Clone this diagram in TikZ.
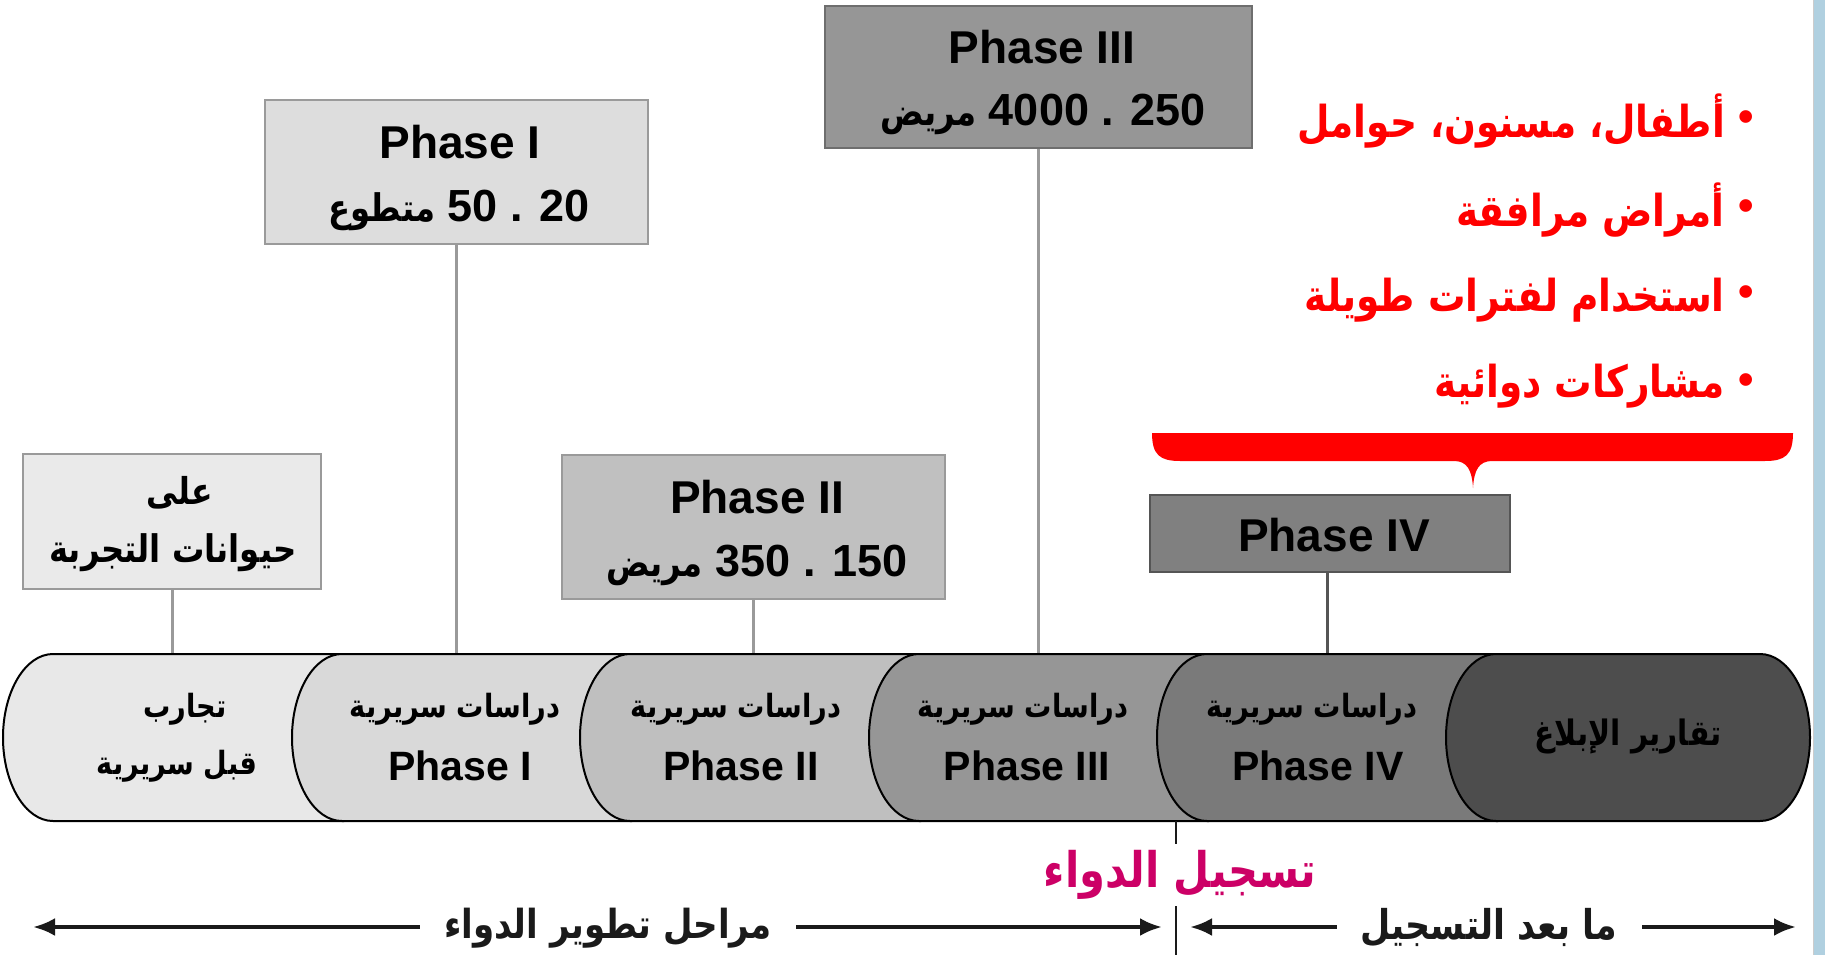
\documentclass[tikz,border=0pt]{standalone}
\usepackage{fontspec}
\setmainfont{Liberation Sans}
\newfontfamily\arfont[Script=Arabic,FakeStretch=0.85]{DejaVu Sans}
\TeXXeTstate=1
\usetikzlibrary{arrows.meta}
\newcommand{\FS}[1]{\fontsize{#1}{#1}\selectfont}
\newcommand{\AR}[1]{{\arfont\bfseries\beginR #1\endR}}
\definecolor{sA}{HTML}{E8E8E8}
\definecolor{sB}{HTML}{D9D9D9}
\definecolor{sC}{HTML}{BFBFBF}
\definecolor{sD}{HTML}{969696}
\definecolor{sE}{HTML}{7A7A7A}
\definecolor{sF}{HTML}{4D4D4D}
\definecolor{bA}{HTML}{EAEAEA}
\definecolor{bB}{HTML}{DDDDDD}
\definecolor{bC}{HTML}{C0C0C0}
\definecolor{bD}{HTML}{969696}
\definecolor{bE}{HTML}{808080}
\definecolor{edgeL}{HTML}{9A9A9A}
\definecolor{edgeM}{HTML}{6E6E6E}
\definecolor{edgeD}{HTML}{555555}
\definecolor{mag}{HTML}{CC0066}
\definecolor{ink}{HTML}{1A1A1A}
\definecolor{sidebar}{HTML}{B0D0E0}
\begin{document}
\begin{tikzpicture}[x=1pt,y=1pt,
  seg/.style={draw=black,line width=2pt},
  box/.style={line width=2pt,inner sep=0pt},
  conn/.style={draw=edgeL,line width=3pt},
  txt/.style={inner sep=0pt},
  arr/.style={line width=4pt,ink,{Latex[length=22pt,width=18pt]}-{Latex[length=22pt,width=18pt]}}]
\useasboundingbox (0,0) rectangle (1825,-955);
\fill[white] (0,0) rectangle (1825,-955);
\coordinate (bandtop) at (0,-654);

% boxes
\node[box,fill=bA,draw=edgeL,minimum width=298pt,minimum height=135pt] (animal) at (172,-521.5) {};
\node[box,fill=bB,draw=edgeL,minimum width=383pt,minimum height=144pt] (p1) at (456.5,-172) {};
\node[box,fill=bC,draw=edgeL,minimum width=383pt,minimum height=144pt] (p2) at (753.5,-527) {};
\node[box,fill=bD,draw=edgeM,minimum width=427pt,minimum height=142pt] (p3) at (1038.5,-77) {};
\node[box,fill=bE,draw=edgeD,minimum width=360pt,minimum height=77pt] (p4) at (1330,-533.5) {};

% connectors
\draw[conn] (animal.south) -- (animal.south |- bandtop);
\draw[conn] (p1.south) -- (p1.south |- bandtop);
\draw[conn] (p2.south) -- (p2.south |- bandtop);
\draw[conn] (p3.south) -- (p3.south |- bandtop);
\draw[conn,draw=edgeD] ([xshift=-3pt]p4.south) -- ([xshift=-3pt]p4.south |- bandtop);

% band segments
\filldraw[seg,fill=sA] (344,-654) -- (53,-654) arc[start angle=90,end angle=270,x radius=50,y radius=83.5] -- (344,-821);
\filldraw[seg,fill=sB] (632,-654) -- (342,-654) arc[start angle=90,end angle=270,x radius=50,y radius=83.5] -- (632,-821);
\filldraw[seg,fill=sC] (921,-654) -- (630,-654) arc[start angle=90,end angle=270,x radius=50,y radius=83.5] -- (921,-821);
\filldraw[seg,fill=sD] (1209,-654) -- (919,-654) arc[start angle=90,end angle=270,x radius=50,y radius=83.5] -- (1209,-821);
\filldraw[seg,fill=sE] (1498,-654) -- (1207,-654) arc[start angle=90,end angle=270,x radius=50,y radius=83.5] -- (1498,-821);
\filldraw[seg,fill=sF] (1760,-654) -- (1496,-654) arc[start angle=90,end angle=270,x radius=50,y radius=83.5] -- (1760,-821) arc[start angle=-90,end angle=90,x radius=50,y radius=83.5] -- cycle;

% segment texts
\node[txt,font=\FS{32}] (s0a) at (185,-709) {\AR{تجارب}};
\node[txt,font=\FS{32}] (s0b) at (177,-766) {\AR{قبل سريرية}};
\node[txt,font=\FS{32}] (s1a) at (455,-709) {\AR{دراسات سريرية}};
\node[txt,font=\FS{41}\bfseries] (s1b) at (460,-766) {Phase I};
\node[txt,font=\FS{32}] (s2a) at (736,-709) {\AR{دراسات سريرية}};
\node[txt,font=\FS{41}\bfseries] (s2b) at (741,-766) {Phase II};
\node[txt,font=\FS{32}] (s3a) at (1023,-709) {\AR{دراسات سريرية}};
\node[txt,font=\FS{41}\bfseries] (s3b) at (1027,-766) {Phase III};
\node[txt,font=\FS{32}] (s4a) at (1312,-709) {\AR{دراسات سريرية}};
\node[txt,font=\FS{41}\bfseries] (s4b) at (1318,-766) {Phase IV};
\node[txt,font=\FS{35}] (s5a) at (1628,-736) {\AR{تقارير الإبلاغ}};

% box texts
\node[txt,font=\FS{37}] (animalA) at (180,-493) {\AR{على}};
\node[txt,font=\FS{38}] (animalB) at (173,-553) {\AR{حيوانات التجربة}};
\node[txt,font=\FS{46}\bfseries] (p1a) at (460,-142) {Phase I};
\node[txt,font=\FS{45}\bfseries] (p1b) at (459,-210) {{\FS{38}\AR{متطوع}} 50 . 20};
\node[txt,font=\FS{46}\bfseries] (p2a) at (757,-497) {Phase II};
\node[txt,font=\FS{45}\bfseries] (p2b) at (757,-565) {{\FS{38}\AR{مريض}} 350 . 150};
\node[txt,font=\FS{46}\bfseries] (p3a) at (1042,-47) {Phase III};
\node[txt,font=\FS{45}\bfseries] (p3b) at (1043,-114) {{\FS{38}\AR{مريض}} 4000 . 250};
\node[txt,font=\FS{46}\bfseries] (p4a) at (1334,-535) {Phase IV};

% red list
\node[txt,anchor=east,text=red,font=\FS{44}] (r1) at (1725,-121) {\AR{أطفال، مسنون، حوامل}};
\node[txt,anchor=east,text=red,font=\FS{44}] (r2) at (1725,-210) {\AR{أمراض مرافقة}};
\node[txt,anchor=east,text=red,font=\FS{44}] (r3) at (1725,-300) {\AR{استخدام لفترات طويلة}};
\node[txt,anchor=east,text=red,font=\FS{44}] (r4) at (1725,-386) {\AR{مشاركات دوائية}};
\node[txt,text=red,font=\FS{44}\bfseries] (r1b) at (1746,-121) {•};
\node[txt,text=red,font=\FS{44}\bfseries] (r2b) at (1746,-210) {•};
\node[txt,text=red,font=\FS{44}\bfseries] (r3b) at (1746,-296) {•};
\node[txt,text=red,font=\FS{44}\bfseries] (r4b) at (1746,-384) {•};

% red brace
\fill[red] (1152,-433) -- (1793,-433) .. controls (1793,-455) and (1785,-461) .. (1765,-461)
  -- (1492,-461) .. controls (1479,-461) and (1474,-470) .. (1473,-488)
  .. controls (1472,-470) and (1467,-461) .. (1454,-461)
  -- (1180,-461) .. controls (1160,-461) and (1152,-455) .. (1152,-433) -- cycle;

% divider and bottom arrows
\coordinate (dtop) at (1176,-821);
\coordinate (dbot) at (1176,-955);
\draw[line width=2.5pt,ink] (dtop) -- (dbot);
\coordinate (aL) at (33,-927);
\coordinate (aM) at (1162,-927);
\coordinate (bM) at (1190,-927);
\coordinate (bR) at (1796,-927);
\draw[arr] (aL) -- (aM);
\draw[arr] (bM) -- (bR);
\node[txt,fill=white,inner xsep=24pt,inner ysep=4pt,text=ink,font=\FS{40}] (devlbl) at (608,-928) {\AR{مراحل تطوير الدواء}};
\node[txt,fill=white,inner xsep=24pt,inner ysep=4pt,text=ink,font=\FS{41}] (postlbl) at (1489,-928) {\AR{ما بعد التسجيل}};
\node[txt,fill=white,inner sep=6pt,text=mag,font=\FS{49}] (reg) at (1180,-875) {\AR{تسجيل الدواء}};

% side bar
\fill[sidebar] (1814,0) rectangle (1825,-955);
\draw[gray!40,line width=1pt] (1813,0) -- (1813,-955);
\end{tikzpicture}
\end{document}
